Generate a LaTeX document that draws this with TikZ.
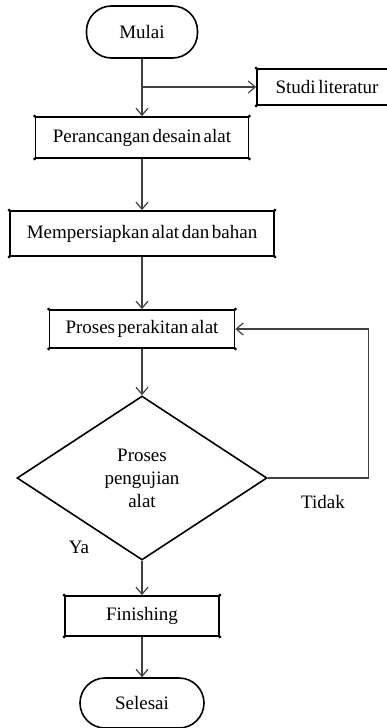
\documentclass[tikz,border=0pt]{standalone}
\usepackage{fontspec}
\setmainfont{Liberation Serif}[WordSpace = 0.55]
\usetikzlibrary{shapes.geometric, arrows.meta}

\begin{document}
\begin{tikzpicture}[x = 1pt, y = -1pt,
	kotak/.style = {draw, line width = 1.8pt, inner sep = 0pt},
	ujung/.style = {draw, line width = 1.6pt, rounded corners = 25pt, inner sep = 0pt},
	alur/.style = {draw = black!75, line width = 1.2pt, -{Straight Barb[length = 7pt, width = 12pt]}},
	font = \fontsize{19}{23}\selectfont]
	\clip (0, 0) rectangle (387, 728);
	
	\node[ujung, minimum width = 111pt, minimum height = 52pt] (mulai) at (142, 32) {Mulai};
	\node[kotak, minimum width = 140pt, minimum height = 36pt] (studi) at (327, 87) {Studi literatur};
	\node[kotak, minimum width = 213pt, minimum height = 41pt] (rancang) at (142, 137.5) {Perancangan desain alat};
	\node[kotak, minimum width = 264pt, minimum height = 45pt] (siap) at (142, 233.5) {Mempersiapkan alat dan bahan};
	\node[kotak, minimum width = 185pt, minimum height = 38pt] (rakit) at (142, 329) {Proses perakitan alat};
	\node[draw, diamond, line width = 1.6pt, minimum width = 250pt, minimum height = 164pt, inner sep = 0pt, align = center] (uji) at (142, 478) {Proses\\pengujian\\alat};
	\node[kotak, minimum width = 154pt, minimum height = 40pt] (finish) at (142, 616) {Finishing};
	\node[ujung, minimum width = 124pt, minimum height = 50pt] (selesai) at (142, 703) {Selesai};
	
	\node (ya) at (79, 547) {Ya};
	\node (tidak) at (323, 502) {Tidak};
	
	\foreach \n in {studi, rancang, siap, rakit, finish}
		\foreach \c in {north west, north east, south west, south east}
			\fill (\n.\c) circle (1.6pt);
	
	\coordinate (cabang) at (142, 87);
	\draw[alur] (mulai) -- (rancang);
	\draw[alur] (cabang) -- (studi);
	\draw[alur] (rancang) -- (siap);
	\draw[alur] (siap) -- (rakit);
	\draw[alur] (rakit) -- (uji);
	\draw[alur] (uji.east) -- ++(101, 0) |- (rakit);
	\draw[alur] (uji) -- (finish);
	\draw[alur] (finish) -- (selesai);
\end{tikzpicture}
\end{document}
